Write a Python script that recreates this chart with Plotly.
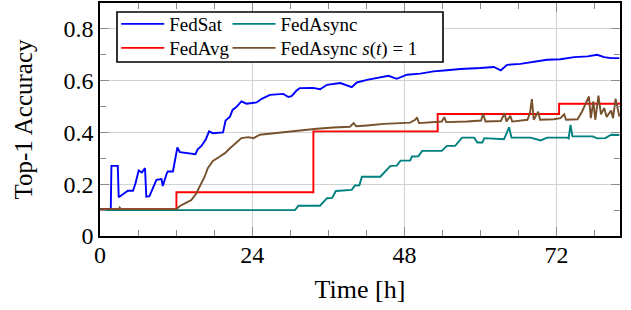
import plotly.graph_objects as go

# ---- data (hours, top-1 accuracy) ----
fedsat_t = [0, 1.7, 1.8, 2.8, 2.95, 3.6, 4.4, 5.2, 5.6, 6.1, 6.6, 7.1, 7.3, 7.8, 8.9, 9.7, 9.9,
            10.5, 10.7, 11.5, 11.8, 12.2, 12.6, 13.9, 15.05, 15.4, 16.0, 16.7, 17.2, 17.8, 19.4,
            19.8, 20.5, 20.9, 21.5, 22.3, 23.1, 24.7, 25.5, 26.8, 28.9, 29.7, 30.2, 31.0, 31.5,
            33.6, 34.7, 35.8, 37.9, 39.7, 40.5, 42.1, 43.7, 45.5, 46.8, 48.4, 50.5, 52.6, 54.7,
            56.8, 60.0, 62.1, 63.2, 64.2, 66.3, 68.4, 70.5, 72.6, 74.8, 76.9, 78.4, 79.5, 80.6, 81.9]
fedsat_acc = [0.104, 0.104, 0.271, 0.271, 0.150, 0.161, 0.175, 0.175, 0.204, 0.253, 0.245, 0.262,
              0.152, 0.154, 0.217, 0.220, 0.193, 0.240, 0.249, 0.249, 0.287, 0.342, 0.324, 0.320,
              0.316, 0.335, 0.348, 0.374, 0.404, 0.397, 0.400, 0.446, 0.461, 0.487, 0.498, 0.520,
              0.511, 0.516, 0.530, 0.545, 0.549, 0.537, 0.540, 0.562, 0.571, 0.572, 0.567, 0.584,
              0.591, 0.575, 0.593, 0.603, 0.610, 0.619, 0.607, 0.623, 0.627, 0.636, 0.640, 0.645,
              0.649, 0.653, 0.640, 0.661, 0.665, 0.674, 0.681, 0.683, 0.691, 0.694, 0.700, 0.691,
              0.687, 0.687]

fedasync_t = [0, 30.75, 31.3, 34.7, 35.8, 36.6, 37.2, 39.7, 40.2, 40.9, 41.3, 44.2, 45.8, 46.8,
              47.4, 48.9, 49.2, 50.2, 50.8, 53.9, 54.7, 56.0, 57.1, 59.0, 59.5, 60.3, 60.6, 63.7,
              64.1, 64.5, 64.9, 67.9, 69.5, 70.5, 73.7, 73.9, 74.2, 74.5, 77.7, 78.4, 79.7, 80.6, 81.9]
fedasync_acc = [0.100, 0.100, 0.117, 0.117, 0.146, 0.147, 0.174, 0.178, 0.195, 0.196, 0.229, 0.229,
                0.271, 0.272, 0.291, 0.291, 0.307, 0.308, 0.329, 0.329, 0.348, 0.348, 0.380, 0.380,
                0.361, 0.361, 0.378, 0.374, 0.395, 0.420, 0.380, 0.380, 0.369, 0.380, 0.380, 0.377,
                0.429, 0.385, 0.385, 0.377, 0.378, 0.391, 0.390]

fedavg_t = [0, 12.05, 33.65, 53.25, 72.4, 82]
fedavg_acc = [0.104, 0.169, 0.404, 0.471, 0.511, 0.511]

fedasync1_t = [0, 3.0, 3.1, 3.3, 12.05, 12.6, 13.4, 14.4, 15.2, 15.7, 16.5, 17.0, 17.8, 18.9, 19.7,
               20.5, 21.5, 22.3, 23.4, 24.2, 25.2, 27.3, 29.4, 31.5, 34.2, 36.8, 39.4, 40.0, 40.4,
               42.1, 44.7, 47.4, 48.9, 49.7, 50.0, 50.3, 52.6, 53.9, 54.3, 54.6, 57.9, 60.1, 60.4,
               60.8, 63.2, 63.8, 64.1, 64.7, 65.0, 67.4, 67.8, 68.1, 68.4, 69.1, 69.4, 71.6, 72.6,
               73.2, 73.5, 75.3, 76.0, 76.5, 77.1, 77.4, 77.8, 78.1, 78.6, 79.0, 79.5, 79.9, 80.6,
               80.9, 81.3, 81.9]
fedasync1_acc = [0.104, 0.104, 0.110, 0.104, 0.104, 0.116, 0.126, 0.139, 0.165, 0.191, 0.229, 0.262,
                 0.290, 0.307, 0.320, 0.339, 0.361, 0.378, 0.382, 0.378, 0.391, 0.397, 0.401, 0.407,
                 0.414, 0.419, 0.422, 0.436, 0.424, 0.427, 0.433, 0.436, 0.438, 0.449, 0.458, 0.436,
                 0.440, 0.442, 0.459, 0.440, 0.442, 0.446, 0.472, 0.442, 0.444, 0.474, 0.442, 0.464,
                 0.442, 0.449, 0.474, 0.529, 0.449, 0.480, 0.449, 0.451, 0.455, 0.470, 0.449, 0.451,
                 0.480, 0.505, 0.539, 0.455, 0.520, 0.449, 0.542, 0.470, 0.494, 0.460, 0.485, 0.455,
                 0.530, 0.461]

x_ticks = [0, 24, 48, 72]
y_ticks = [0, 0.2, 0.4, 0.6, 0.8]
y_tick_labels = ["0", "0.2", "0.4", "0.6", "0.8"]

FONT = "Liberation Serif"

fig = go.Figure()
fig.add_trace(go.Scatter(x=fedsat_t, y=fedsat_acc, mode="lines", name="FedSat",
                         line=dict(color="#0000ff", width=1.9), legend="legend"))
fig.add_trace(go.Scatter(x=fedasync_t, y=fedasync_acc, mode="lines", name="FedAsync",
                         line=dict(color="#008080", width=1.9), legend="legend2"))
fig.add_trace(go.Scatter(x=fedavg_t, y=fedavg_acc, mode="lines", name="FedAvg",
                         line=dict(color="#ff0000", width=1.9, shape="hv"), legend="legend3"))
fig.add_trace(go.Scatter(x=fedasync1_t, y=fedasync1_acc, mode="lines",
                         name="FedAsync <i>s</i>(<i>t</i>) = 1",
                         line=dict(color="#77502c", width=1.9), legend="legend4"))

axis_common = dict(
    showline=True, linecolor="black", linewidth=1.6, mirror="ticks",
    ticks="inside", ticklen=9, tickwidth=1, tickcolor="#8a8a8a",
    showgrid=True, gridcolor="#d2d2d2", gridwidth=1, zeroline=False,
    tickfont=dict(family=FONT, size=24, color="black"),
    automargin=False,
)

fig.update_xaxes(
    range=[0, 82], tickvals=x_ticks, ticklabelstandoff=-4,
    minor=dict(dtick=6, tick0=0, ticks="inside", ticklen=6, tickwidth=1,
               tickcolor="#8a8a8a", showgrid=False),
    title=dict(text="Time [h]", font=dict(family=FONT, size=26, color="black"), standoff=13),
    **axis_common,
)
fig.update_yaxes(
    range=[0, 0.9], tickvals=y_ticks, ticktext=y_tick_labels,
    minor=dict(dtick=0.1, tick0=0, ticks="inside", ticklen=6, tickwidth=1,
               tickcolor="#8a8a8a", showgrid=False),
    title=dict(text="Top-1 Accuracy", font=dict(family=FONT, size=25, color="black"), standoff=24),
    **axis_common,
)

legend_common = dict(
    orientation="v", bgcolor="rgba(0,0,0,0)", borderwidth=0,
    font=dict(family=FONT, size=19, color="black"),
    xanchor="left", yanchor="middle", yref="paper", xref="paper",
    itemwidth=43, tracegroupgap=0, itemclick=False, itemdoubleclick=False,
)

row1_y, row2_y = 0.9099, 0.8069
col1_x, col2_x = 0.0312, 0.2452

fig.update_layout(
    width=631, height=310,
    margin=dict(l=100, r=11, t=3, b=74),
    plot_bgcolor="white", paper_bgcolor="white",
    showlegend=True,
    legend=dict(x=col1_x, y=row1_y, **legend_common),
    legend2=dict(x=col2_x, y=row1_y, **legend_common),
    legend3=dict(x=col1_x, y=row2_y, **legend_common),
    legend4=dict(x=col2_x, y=row2_y, **legend_common),
    shapes=[dict(type="rect", xref="paper", yref="paper",
                 x0=0.0327, x1=0.6596, y0=0.7468, y1=0.9614,
                 line=dict(color="black", width=1.6), fillcolor="white", layer="above")],
)

fig.write_html("out.html", config={"displayModeBar": False},
               post_script="document.body.style.margin='0';")
